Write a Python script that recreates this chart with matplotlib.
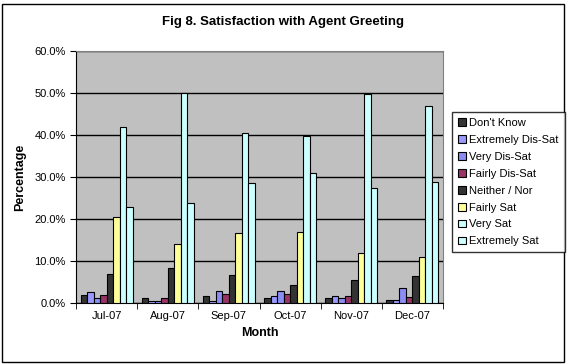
import numpy as np
import matplotlib.pyplot as plt
from matplotlib.patches import Rectangle

months = ["Jul-07", "Aug-07", "Sep-07", "Oct-07", "Nov-07", "Dec-07"]
series = ["Don't Know", "Extremely Dis-Sat", "Very Dis-Sat", "Fairly Dis-Sat",
          "Neither / Nor", "Fairly Sat", "Very Sat", "Extremely Sat"]

dont_know = [1.9, 1.2, 1.6, 1.2, 1.2, 0.6]
extremely_dis = [2.6, 0.4, 0.4, 1.6, 1.6, 0.6]
very_dis = [1.2, 0.4, 2.8, 2.8, 1.2, 3.5]
fairly_dis = [1.9, 1.2, 2.1, 2.1, 1.6, 1.4]
neither = [6.9, 8.3, 6.6, 4.3, 5.5, 6.4]
fairly_sat = [20.5, 14.0, 16.6, 16.8, 11.9, 11.0]
very_sat = [41.9, 50.0, 40.4, 39.8, 49.8, 47.0]
extremely_sat = [22.8, 23.8, 28.5, 30.9, 27.3, 28.7]

values = [dont_know, extremely_dis, very_dis, fairly_dis,
          neither, fairly_sat, very_sat, extremely_sat]
colors = ["#333333", "#9999FF", "#8C8CF5", "#993366",
          "#333333", "#FFFF99", "#CCFFFF", "#CCFFFF"]

plt.rcParams['font.family'] = ['Liberation Sans', 'DejaVu Sans']

fig = plt.figure(figsize=(5.67, 3.64), dpi=100)
ax = fig.add_axes([76/567, 1-303/364, (443-76)/567, (303-51)/364])
ax.set_facecolor("#C0C0C0")

x = np.arange(len(months))
w = 0.106
for i, (vals, c, name) in enumerate(zip(values, colors, series)):
    ax.bar(x + (i - 3.5) * w, vals, w, color=c, edgecolor="black",
           linewidth=0.8, label=name, zorder=3)

ax.set_ylim(0, 60)
ax.set_xlim(-0.5, len(months) - 0.5)
ax.set_yticks(np.arange(0, 61, 10))
ax.set_yticklabels([f"{v:.1f}%" for v in np.arange(0, 61, 10)], fontsize=8)
ax.yaxis.grid(True, color="black", linewidth=1, zorder=1)
ax.set_axisbelow(True)

ax.set_xticks(x)
ax.set_xticklabels(months, fontsize=8)
ax.tick_params(axis='x', length=0, pad=6)
ax.set_xticks(np.arange(-0.5, len(months)), minor=True)
ax.tick_params(axis='x', which='minor', length=4, direction='out')
ax.tick_params(axis='y', length=4, direction='out')

for s in ["top", "right"]:
    ax.spines[s].set_color("#808080")
ax.spines["left"].set_color("black")
ax.spines["bottom"].set_color("black")

ax.set_xlabel("Month", fontsize=9, fontweight="bold", labelpad=4)
ax.set_ylabel("Percentage", fontsize=9, fontweight="bold", labelpad=6)

fig.text(0.5, 1-22/364, "Fig 8. Satisfaction with Agent Greeting",
         ha="center", va="center", fontsize=9.5, fontweight="bold")

leg = fig.legend(loc="upper left", bbox_to_anchor=(452/567, 1-112/364),
                 fontsize=8, frameon=True, fancybox=False, handlelength=0.7,
                 handleheight=0.7, handletextpad=0.3, labelspacing=0.62,
                 borderpad=0.55, borderaxespad=0)
leg.get_frame().set_edgecolor("black")
leg.get_frame().set_linewidth(1)

fig.patches.append(Rectangle((2/567, 2/364), 1-5/567, 1-6/364,
                             transform=fig.transFigure, fill=False,
                             edgecolor="black", linewidth=1))

fig.savefig("out.png", dpi=100)
